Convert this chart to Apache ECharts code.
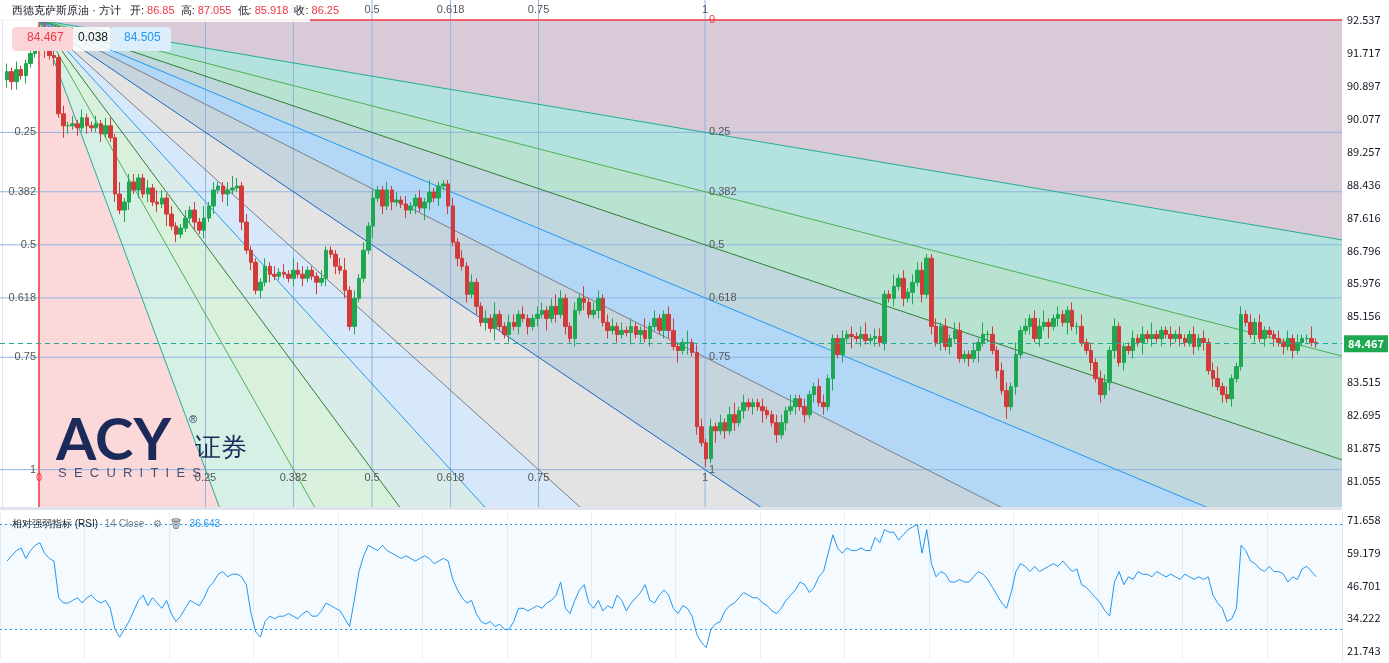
<!DOCTYPE html>
<html><head><meta charset="utf-8">
<script src="https://cdn.jsdelivr.net/npm/echarts@6/dist/echarts.min.js"></script>
<style>html,body{margin:0;padding:0;background:#fff}#c{width:1389px;height:663px}</style>
</head><body><div id="c"></div>
<script>
const closes=[91.25,91.0,91.3,91.15,91.45,91.7,91.95,92.3,91.8,91.65,91.6,90.2,89.9,89.9,89.95,89.85,90.1,89.9,89.85,89.95,89.7,89.9,89.6,88.2,87.8,88.0,88.5,88.3,88.6,88.2,88.35,88.0,87.95,88.1,87.7,87.4,87.2,87.35,87.6,87.8,87.5,87.3,87.6,87.9,88.3,88.4,88.2,88.3,88.35,88.4,87.5,86.8,86.5,85.8,86.0,86.4,86.2,86.15,86.25,86.2,86.1,86.3,86.2,86.1,86.3,86.15,86.0,86.1,86.8,86.7,86.4,86.3,85.8,84.9,85.6,86.1,86.8,87.4,88.1,88.3,87.9,88.3,88.0,88.05,87.95,87.8,87.9,88.1,87.85,88.0,88.25,88.1,88.4,88.45,87.9,87.0,86.6,86.4,85.7,86.0,85.4,85.0,85.1,84.85,85.2,84.9,84.7,85.0,84.9,85.2,85.1,84.9,85.1,85.2,85.3,85.1,85.4,85.2,85.6,84.9,84.6,85.3,85.6,85.5,85.2,85.3,85.6,85.0,84.8,84.9,84.7,84.8,84.75,84.9,84.7,84.8,84.6,84.9,85.1,84.8,85.2,84.8,84.4,84.3,84.5,84.5,84.25,82.4,82.0,81.6,82.4,82.3,82.5,82.3,82.7,82.5,82.8,83.0,82.9,83.0,82.9,82.8,82.7,82.5,82.2,82.5,82.8,82.9,83.1,82.9,82.7,83.2,83.4,83.0,82.9,83.6,84.6,84.2,84.6,84.7,84.65,84.6,84.7,84.55,84.6,84.65,84.5,85.7,85.6,85.9,86.1,85.6,85.75,86.0,86.3,85.7,86.6,84.9,84.5,84.9,84.4,84.6,84.8,84.1,84.2,84.1,84.3,84.5,84.7,84.7,84.3,83.8,83.3,82.9,83.4,84.2,84.8,84.9,85.1,84.6,84.9,85.0,84.9,85.1,85.2,85.0,85.3,84.9,84.9,84.5,84.3,84.0,83.6,83.2,83.5,84.3,84.9,84.0,84.4,84.3,84.6,84.5,84.7,84.6,84.7,84.6,84.8,84.7,84.6,84.7,84.6,84.5,84.7,84.4,84.6,84.5,83.8,83.6,83.4,83.2,83.1,83.6,83.9,85.2,85.0,84.7,85.0,84.6,84.8,84.7,84.6,84.5,84.4,84.6,84.3,84.5,84.6,84.6,84.5,84.467];
const firstOpen=91.05;
// wick lengths in tenths of a dollar, per candle
const upperWicks="21211221312121212112122131221121321211212131211232121112121213221112111231212121121212112131111212121121311221211221232112131221221212113121123113122121212312111211221311211221112121231221131212221121212211213121221312122311211213121221211121213111212112121231211212121112121211311";
const lowerWicks="22212111212132121211211213212121213121112121212311212121211112121131212121211131212112121321212121212121311212121213121212121121212113121211221313121213121212121311212121212121312131211212121213121212121112131212131211212131213121121212212121312121212112121212121111212121212";
const rsi=[56,58,60,61,57,60,62,63,59,57,56,42,40,40,41,42,40,42,43,41,40,41,38,30,27,30,33,37,41,43,39,42,40,38,41,36,33,35,38,41,40,39,42,46,48,51,52,50,51,51,50,47,36,29,27,33,35,34,35,35,36,35,34,36,37,35,35,37,40,39,38,37,34,31,41,52,58,62,61,60,62,60,59,58,57,58,57,56,57,58,57,55,56,57,56,49,45,42,40,41,36,33,32,33,31,32,30,30,33,38,38,37,38,39,38,40,41,43,48,38,36,41,45,47,40,38,41,37,39,38,43,41,37,40,42,44,47,41,40,43,45,43,38,36,39,38,35,28,25,23,30,32,33,37,39,40,42,44,43,42,42,40,39,37,36,38,41,43,45,48,47,44,46,50,52,59,66,61,59,61,60,60,61,60,60,65,63,68,67,67,64,66,68,69,70,59,68,55,50,52,51,48,48,49,48,48,50,52,51,49,46,43,40,38,44,52,55,54,52,54,52,53,54,55,54,56,54,52,53,47,46,44,42,40,37,35,48,52,47,50,49,52,51,51,50,52,51,50,51,50,49,51,50,49,50,49,50,43,40,38,33,34,38,62,60,56,55,53,52,54,52,52,51,48,50,49,53,54,52,50];
const priceTicks=[92.537,91.717,90.897,90.077,89.257,88.436,87.616,86.796,85.976,85.156,83.515,82.695,81.875,81.055];
const rsiTicks=[21.743,34.222,46.701,59.179,71.658];
const fibLevels=[0.25,0.382,0.5,0.618,0.75];
const fanOrigin=[7.81,92.537], fanEnd=[149.76,81.33];
const lastPrice=84.467;

const N=286;
const cats=[];for(let i=0;i<N;i++)cats.push(String(i));
const candle=[],rsiData=[];
for(let i=0;i<N;i++){candle.push('-');rsiData.push(null);}
let prev=firstOpen;
closes.forEach((c,k)=>{const o=prev;const uw=+(upperWicks[k]||1)*0.1,lw=+(lowerWicks[k]||1)*0.1;
 candle[k+1]=[o,c,+(Math.min(o,c)-lw).toFixed(3),+(Math.max(o,c)+uw).toFixed(3)];prev=c;});
rsi.forEach((v,k)=>{if(k+1<N)rsiData[k+1]=v;});

const [x0,P0]=fanOrigin,[x1,P1]=fanEnd,dx=x1-x0,dP=P1-P0;
const rays=[{d:[1,0],c:'#f23645'}];
const lc={0.25:'#22ab94',0.382:'#4caf50',0.5:'#2e7d32',0.618:'#2196f3',0.75:'#787b86'};
fibLevels.forEach(L=>rays.push({d:[dx,L*dP],c:lc[L]}));
rays.push({d:[dx,dP],c:'#1565c0'});
fibLevels.slice().reverse().forEach(L=>rays.push({d:[L*dx,dP],c:lc[L]}));
rays.push({d:[0,-1],c:'#f23645'});
const fills=['#d8cad6','#b3e2df','#b7e3d0','#c0d7de','#b3d7f6','#c6d4dd','#e3e3e3','#d6e8fa','#d9ecea','#d9f1dc','#d6f0e6','#fbd8da'];
const far=r=>{const k=2000/(Math.abs(r.d[0])+Math.abs(r.d[1])*25);return [x0+r.d[0]*k,P0+r.d[1]*k];};

function clipGroup(params,children){const cs=params.coordSys;return {type:'group',children,clipPath:{type:'rect',shape:{x:cs.x,y:cs.y,width:cs.width,height:cs.height}}};}

const allLevels=[0].concat(fibLevels,[1]);
const overlay={type:'custom',xAxisIndex:1,yAxisIndex:0,data:[0],silent:true,z:1,
 renderItem:(params,api)=>{
  const ch=[];const o=api.coord([x0,P0]);
  for(let i=0;i<fills.length;i++){ch.push({type:'polygon',shape:{points:[o,api.coord(far(rays[i])),api.coord(far(rays[i+1]))]},style:{fill:fills[i]}});}
  const cs=params.coordSys;
  allLevels.forEach(L=>{const p=api.coord([x0,P0+L*dP]);const q=api.coord([x0+L*dx,P1]);
   const col=L===0?'#f23645':'#90b4e0';
   ch.push({type:'line',shape:{x1:cs.x,y1:p[1],x2:cs.x+cs.width,y2:p[1]},style:{stroke:col,lineWidth:1}});
   ch.push({type:'line',shape:{x1:q[0],y1:cs.y,x2:q[0],y2:cs.y+cs.height},style:{stroke:col,lineWidth:1}});
  });
  rays.forEach(r=>{const f=api.coord(far(r));ch.push({type:'line',shape:{x1:o[0],y1:o[1],x2:f[0],y2:f[1]},style:{stroke:r.c,lineWidth:1}});});
  allLevels.forEach(L=>{const p=api.coord([x0,P0+L*dP]);const q=api.coord([x0+L*dx,P1]);const e=api.coord([x1,P1]);
   const t=String(L);const f='11px sans-serif';const col='#555';
   if(L>0){ch.push({type:'text',style:{text:t,x:o[0]-3,y:p[1],align:'right',verticalAlign:'middle',font:f,fill:col}});}
   ch.push({type:'text',style:{text:t,x:e[0]+4,y:p[1],align:'left',verticalAlign:'middle',font:f,fill:L===0?'#f23645':col}});
   ch.push({type:'text',style:{text:t,x:q[0],y:cs.y+10,align:'center',verticalAlign:'middle',font:f,fill:L===0?'#f23645':col}});
   ch.push({type:'text',style:{text:t,x:q[0],y:e[1]+8,align:'center',verticalAlign:'middle',font:f,fill:L===0?'#f23645':col}});
  });
  return clipGroup(params,ch);
 }};

const chart=echarts.init(document.getElementById('c'));
chart.setOption({
 animation:false,
 textStyle:{fontFamily:'Noto Sans CJK SC, Noto Sans, sans-serif'},
 grid:[{left:0,right:47,top:0,height:507},{left:0,right:47,top:512,height:148}],
 xAxis:[
  {type:'category',data:cats,gridIndex:0,show:false,boundaryGap:true},
  {type:'value',gridIndex:0,min:-0.5,max:N-0.5,show:false},
  {type:'category',data:cats,gridIndex:1,boundaryGap:true,axisLine:{show:false},axisTick:{show:false},axisLabel:{show:false},
   splitLine:{show:true,interval:17,lineStyle:{color:'#eef0f3'}}}
 ],
 yAxis:[
  {type:'value',gridIndex:0,position:'right',min:80.40,max:93.035,scale:true,
   axisLine:{show:true,lineStyle:{color:'#e0e3eb'}},axisTick:{show:false},splitLine:{show:false},
   axisLabel:{customValues:priceTicks,formatter:v=>v.toFixed(3),color:'#131722',fontSize:11,margin:5}},
  {type:'value',gridIndex:1,position:'right',min:18.3,max:74.7,
   axisLine:{show:true,lineStyle:{color:'#e0e3eb'}},axisTick:{show:false},splitLine:{show:false},
   axisLabel:{customValues:rsiTicks,formatter:v=>v.toFixed(3),color:'#131722',fontSize:11,margin:5}}
 ],
 series:[
  overlay,
  {type:'candlestick',xAxisIndex:0,yAxisIndex:0,data:candle,barWidth:4,z:3,
   itemStyle:{color:'#1ea852',color0:'#d33a3a',borderColor:'#1ea852',borderColor0:'#d33a3a'},
   markLine:{symbol:'none',silent:true,data:[{yAxis:lastPrice}],lineStyle:{color:'#22ab94',type:[5,4],width:1},
    label:{position:'end',formatter:()=>lastPrice.toFixed(3),color:'#fff',backgroundColor:'#1ea852',padding:[3,4],fontSize:11,fontWeight:'bold',distance:2}}},
  {type:'line',xAxisIndex:2,yAxisIndex:1,data:rsiData,showSymbol:false,lineStyle:{color:'#2196f3',width:1},z:3,
   markArea:{silent:true,itemStyle:{color:'rgba(33,150,243,0.05)'},data:[[{yAxis:30},{yAxis:70}]]},
   markLine:{symbol:'none',silent:true,label:{show:false},lineStyle:{color:'#2196f3',type:[2,3],width:1},data:[{yAxis:70},{yAxis:30}]}}
 ],
 graphic:{elements:[
  {type:'rect',left:0,top:507,z:100,shape:{width:1342,height:3},style:{fill:'#e0e3eb'}},
  {type:'rect',left:0,top:0,z:100,shape:{width:310,height:22},style:{fill:'rgba(255,255,255,0.9)'}},
  {type:'text',left:12,top:5,z:101,style:{rich:{a:{fill:'#131722',fontSize:11},r:{fill:'#f23645',fontSize:11}},
   text:'{a|西德克萨斯原油 · 方计   开: }{r|86.85}{a|  高: }{r|87.055}{a|  低: }{r|85.918}{a|  收: }{r|86.25}'}},
  {type:'rect',left:12,top:27,z:100,shape:{width:61,height:24,r:4},style:{fill:'#fad4d6'}},
  {type:'text',left:27,top:32,z:101,style:{text:'84.467',fill:'#f23645',fontSize:12}},
  {type:'rect',left:73,top:27,z:100,shape:{width:37,height:24},style:{fill:'rgba(255,255,255,0.85)'}},
  {type:'text',left:78,top:32,z:101,style:{text:'0.038',fill:'#131722',fontSize:12}},
  {type:'rect',left:110,top:27,z:100,shape:{width:61,height:24,r:4},style:{fill:'#dcedfb'}},
  {type:'text',left:124,top:32,z:101,style:{text:'84.505',fill:'#2196f3',fontSize:12}},
  {type:'text',left:56,top:412,z:100,style:{text:'ACY',fill:'#1c2a5a',font:'bold 58px Lato, sans-serif'}},
  {type:'text',left:189,top:414,z:100,style:{text:'®',fill:'#1c2a5a',fontSize:11}},
  {type:'text',left:195,top:436,z:100,style:{text:'证券',fill:'#1c2a5a',fontSize:26}},
  {type:'text',left:58,top:467,z:100,style:{text:'S  E  C  U  R  I  T  I  E  S',fill:'#1c2a5a',fontSize:13,opacity:0.8}},
  {type:'text',left:12,top:518,z:100,style:{rich:{a:{fill:'#131722',fontSize:10},g:{fill:'#787b86',fontSize:10},b:{fill:'#2196f3',fontSize:10}},
   text:'{a|相对强弱指标 (RSI)}  {g|14 Close   ⚙   🗑}  {b|36.643}'}}
 ]}
});
</script></body></html>
